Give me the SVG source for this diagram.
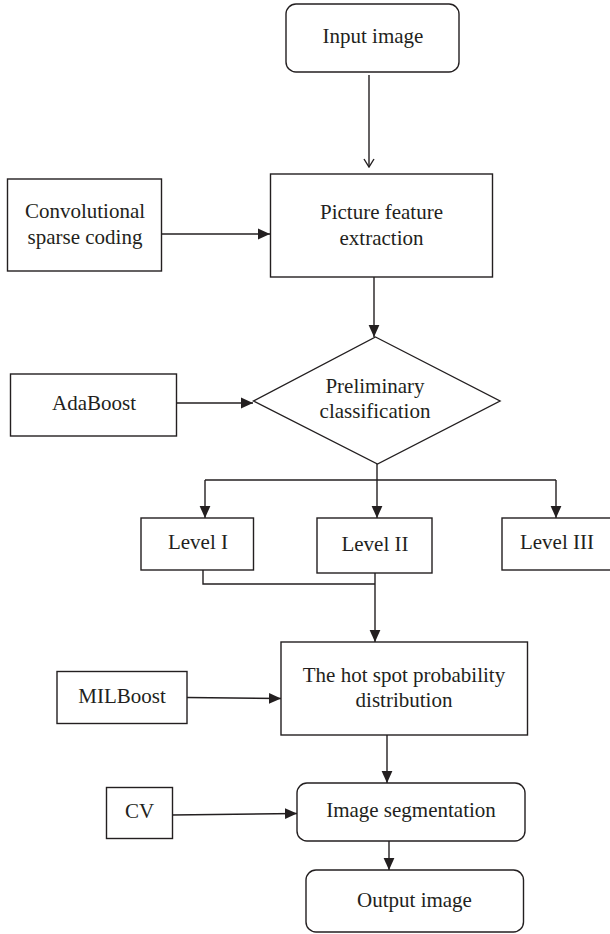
<svg xmlns="http://www.w3.org/2000/svg" width="610" height="934" viewBox="0 0 610 934">
<style>
.box{fill:#fff;stroke:#231f20;stroke-width:1.4}
.ln{fill:none;stroke:#231f20;stroke-width:1.4}
text{font-family:"Liberation Serif","Times New Roman",serif;font-size:21px;fill:#231f20;text-anchor:middle}
</style>
<defs>
<marker id="tri" markerUnits="userSpaceOnUse" markerWidth="12" markerHeight="12" viewBox="0 0 10 10" refX="10" refY="5" orient="auto">
<path d="M0,0.5 L10,5 L0,9.5 Z" fill="#231f20"/>
</marker>
<marker id="open" markerUnits="userSpaceOnUse" markerWidth="12" markerHeight="12" viewBox="0 0 12 12" refX="11" refY="6" orient="auto">
<path d="M3,1 L11,6 L3,11" fill="none" stroke="#231f20" stroke-width="1.4"/>
</marker>
</defs>
<rect width="610" height="934" fill="#fff"/>
<g id="connectors">
<line class="ln" x1="369" y1="75" x2="369" y2="167" marker-end="url(#open)"/>
<line class="ln" x1="162" y1="234" x2="270" y2="234" marker-end="url(#tri)"/>
<line class="ln" x1="374" y1="277" x2="374" y2="337" marker-end="url(#tri)"/>
<line class="ln" x1="176" y1="403" x2="253" y2="403" marker-end="url(#tri)"/>
<line class="ln" x1="377" y1="464" x2="377" y2="480"/>
<line class="ln" x1="205" y1="480" x2="556" y2="480"/>
<line class="ln" x1="205" y1="480" x2="205" y2="518" marker-end="url(#tri)"/>
<line class="ln" x1="377" y1="480" x2="377" y2="518" marker-end="url(#tri)"/>
<line class="ln" x1="556" y1="480" x2="556" y2="518" marker-end="url(#tri)"/>
<polyline class="ln" points="203,570 203,584 375,584"/>
<line class="ln" x1="375" y1="573" x2="375" y2="642" stroke-width="2" marker-end="url(#tri)"/>
<line class="ln" x1="187" y1="697.5" x2="281" y2="698.5" marker-end="url(#tri)"/>
<line class="ln" x1="387" y1="735" x2="387" y2="783" marker-end="url(#tri)"/>
<line class="ln" x1="172" y1="815" x2="297" y2="813.5" marker-end="url(#tri)"/>
<line class="ln" x1="389" y1="841" x2="389" y2="870" marker-end="url(#tri)"/>
</g>
<g id="input">
<rect class="box" x="286" y="4" width="173" height="68" rx="10"/>
<text x="373" y="43">Input image</text>
</g>
<g id="conv">
<rect class="box" x="7.5" y="179" width="154" height="92"/>
<text x="85" y="218">Convolutional</text>
<text x="85" y="244">sparse coding</text>
</g>
<g id="feature">
<rect class="box" x="270.5" y="174" width="222" height="103"/>
<text x="381.5" y="219">Picture feature</text>
<text x="381.5" y="245">extraction</text>
</g>
<g id="adaboost">
<rect class="box" x="10.5" y="374" width="166" height="62"/>
<text x="94" y="410">AdaBoost</text>
</g>
<g id="prelim">
<polygon class="box" points="375.5,337 500,401 377.5,464 253.5,401"/>
<text x="375" y="393">Preliminary</text>
<text x="375" y="418">classification</text>
</g>
<g id="level1">
<rect class="box" x="141" y="518" width="112.5" height="52"/>
<text x="198" y="549">Level I</text>
</g>
<g id="level2">
<rect class="box" x="317" y="518" width="115" height="55"/>
<text x="375" y="551">Level II</text>
</g>
<g id="level3">
<rect class="box" x="502" y="518" width="112" height="52"/>
<text x="557" y="549">Level III</text>
</g>
<g id="hotspot">
<rect class="box" x="281" y="642" width="246.5" height="93"/>
<text x="404" y="682">The hot spot probability</text>
<text x="404" y="707">distribution</text>
</g>
<g id="milboost">
<rect class="box" x="57" y="671.5" width="130" height="52"/>
<text x="122" y="703">MILBoost</text>
</g>
<g id="segmentation">
<rect class="box" x="297" y="783" width="228" height="58" rx="10"/>
<text x="411" y="817">Image segmentation</text>
</g>
<g id="cv">
<rect class="box" x="106.5" y="787.5" width="66" height="51"/>
<text x="139.5" y="818">CV</text>
</g>
<g id="output">
<rect class="box" x="306" y="870" width="217.5" height="62" rx="10"/>
<text x="414.5" y="907">Output image</text>
</g>
</svg>
